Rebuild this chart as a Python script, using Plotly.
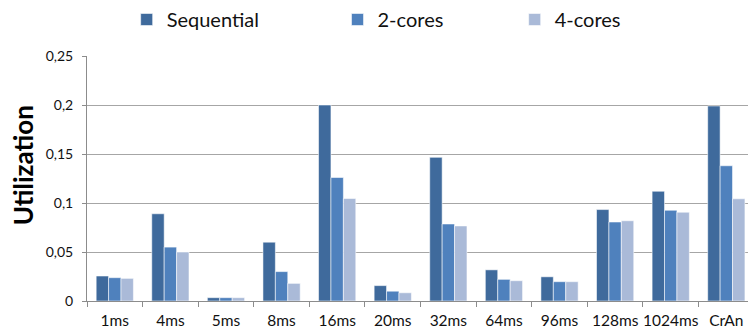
import plotly.graph_objects as go

# Categories (timer periods) and per-configuration utilization
categories = ["1ms", "4ms", "5ms", "8ms", "16ms", "20ms", "32ms", "64ms",
              "96ms", "128ms", "1024ms", "CrAn"]
sequential = [0.0255, 0.089, 0.0034, 0.060, 0.200, 0.0157, 0.1466, 0.0318,
              0.0247, 0.0933, 0.112, 0.199]
two_cores = [0.0238, 0.055, 0.0034, 0.030, 0.126, 0.0100, 0.0786, 0.0221,
             0.0197, 0.0806, 0.0926, 0.138]
four_cores = [0.0231, 0.050, 0.0034, 0.018, 0.1046, 0.0084, 0.0766, 0.0207,
              0.0197, 0.0819, 0.0906, 0.1043]
y_ticks = [0, 0.05, 0.1, 0.15, 0.2, 0.25]

series = [
    ("Sequential", sequential, "#3F6A9C", "legend"),
    ("2-cores", two_cores, "#4F81BD", "legend2"),
    ("4-cores", four_cores, "#AABAD8", "legend3"),
]

FONT = "Lato, 'Open Sans', sans-serif"

fig = go.Figure()
for name, vals, color, leg in series:
    fig.add_trace(go.Bar(
        x=categories, y=vals, name=name, legend=leg,
        marker=dict(color=color, line=dict(color="rgba(255,255,255,0.55)", width=1)),
    ))

legend_common = dict(
    orientation="h", yanchor="middle", y=1.15, xanchor="left",
    font=dict(family=FONT, size=20, color="#111111"),
    bgcolor="rgba(0,0,0,0)", borderwidth=0,
)

fig.update_layout(
    width=748, height=334,
    margin=dict(l=87, r=0, t=52, b=33),
    paper_bgcolor="white", plot_bgcolor="white",
    separators=",.",
    barmode="group", bargap=0.33, bargroupgap=0,
    font=dict(family=FONT, color="#111111"),
    showlegend=True,
    legend=dict(x=0.060, **legend_common),
    legend2=dict(x=0.379, **legend_common),
    legend3=dict(x=0.647, **legend_common),
    xaxis=dict(
        type="category", range=[-0.5, 11.39],
        showline=True, linecolor="#8C8C8C", linewidth=1,
        ticks="outside", tickson="boundaries", ticklen=5, tickcolor="#8C8C8C",
        tickfont=dict(family=FONT, size=15.5, color="#111111"),
        tickangle=0, automargin=False,
        ticklabelstandoff=5,
        showgrid=False, zeroline=False,
    ),
    yaxis=dict(
        range=[0, 0.25], tickvals=y_ticks,
        showline=True, linecolor="#8C8C8C", linewidth=1,
        ticks="outside", ticklen=4, tickcolor="#8C8C8C",
        tickfont=dict(family=FONT, size=14, color="#111111"),
        ticklabelstandoff=6, automargin=False,
        showgrid=True, gridcolor="#A6A6A6", gridwidth=1,
        zeroline=False,
    ),
    annotations=[dict(
        text="<b>Utilization</b>", textangle=-90,
        xref="paper", yref="paper", x=-0.0968, y=0.554,
        xanchor="center", yanchor="middle", showarrow=False,
        font=dict(family=FONT, size=26, color="#000000"),
    )],
)

fig.write_html("out.html")
